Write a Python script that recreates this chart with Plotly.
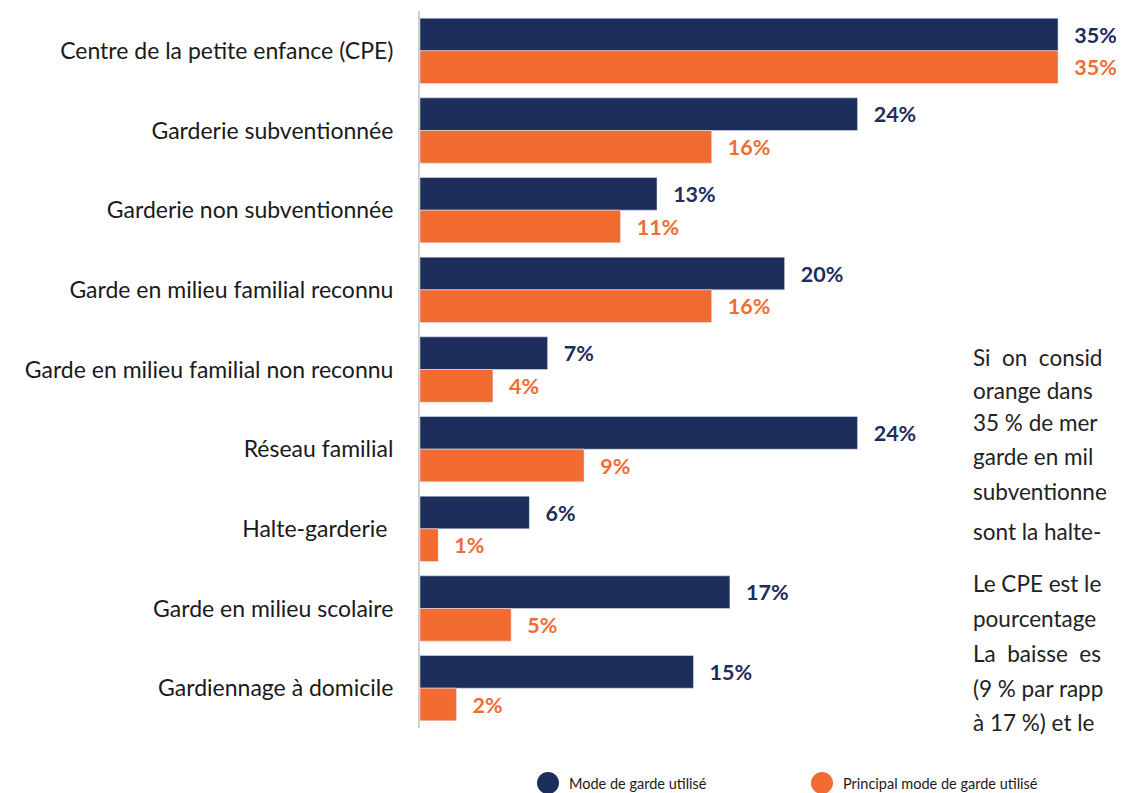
import plotly.graph_objects as go

categories = [
    "Centre de la petite enfance (CPE)",
    "Garderie subventionnée",
    "Garderie non subventionnée",
    "Garde en milieu familial reconnu",
    "Garde en milieu familial non reconnu",
    "Réseau familial",
    "Halte-garderie ",
    "Garde en milieu scolaire",
    "Gardiennage à domicile",
]
mode_utilise = [35, 24, 13, 20, 7, 24, 6, 17, 15]
principal_mode = [35, 16, 11, 16, 4, 9, 1, 5, 2]
series_names = ["Mode de garde utilisé", "Principal mode de garde utilisé"]

side_text = [
    "Si  on  consid",
    "orange dans",
    "35 % de mer",
    "garde en mil",
    "subventionne",
    "sont la halte-",
    "Le CPE est le",
    "pourcentage",
    "La  baisse  es",
    "(9 % par rapp",
    "à 17 %) et le",
]
side_y_px = [357, 390, 423, 457, 491, 531, 583, 618, 653, 688, 722]

NAVY = "#1d2d5c"
ORANGE = "#f26c32"
FONT = "Lato, 'Open Sans', sans-serif"
PAD = "\u00a0\u00a0\u2009"

# page body has an 8px margin: figure is drawn 8px right/down
OFF = 8
W, H = 1124 - OFF, 793 - OFF
ML, MR, MT, MB = 420 - OFF, 0, 11 - OFF, H - (728 - OFF)
plot_w = W - ML - MR
plot_h = H - MT - MB
px_per_pct = 18.23


def px_x(x):  # reference pixel -> paper x
    return (x - OFF - ML) / plot_w


def px_y(y):  # reference pixel -> paper y
    return 1 - (y - OFF - MT) / plot_h


fig = go.Figure()
fig.add_trace(go.Bar(
    y=categories, x=mode_utilise, orientation="h", name=series_names[0],
    marker_color=NAVY, showlegend=False,
    text=[PAD + f"{v}%" for v in mode_utilise],
    textposition="outside", cliponaxis=False,
    textfont=dict(family=FONT, size=21.5, color=NAVY, weight="bold"),
))
fig.add_trace(go.Bar(
    y=categories, x=principal_mode, orientation="h", name=series_names[1],
    marker_color=ORANGE, showlegend=False,
    text=[PAD + f"{v}%" for v in principal_mode],
    textposition="outside", cliponaxis=False,
    textfont=dict(family=FONT, size=21.5, color=ORANGE, weight="bold"),
))

# legend drawn as circles + labels
legend_x_px = [548, 822]
legend_y_px = 783
for name, col, lx in zip(series_names, [NAVY, ORANGE], legend_x_px):
    fig.add_shape(
        type="circle", xref="paper", yref="paper",
        xsizemode="pixel", ysizemode="pixel",
        xanchor=px_x(lx), yanchor=px_y(legend_y_px),
        x0=-11, x1=11, y0=-11, y1=11,
        fillcolor=col, line=dict(width=0),
    )
    fig.add_annotation(
        xref="paper", yref="paper", x=px_x(lx + 19), y=px_y(legend_y_px),
        xanchor="left", yanchor="middle", showarrow=False, text=name,
        font=dict(family=FONT, size=14.5, color="#1a1a1a"),
    )

for t, ypx in zip(side_text, side_y_px):
    fig.add_annotation(
        xref="paper", yref="paper", x=px_x(971), y=px_y(ypx),
        xanchor="left", yanchor="middle", showarrow=False,
        text=t, font=dict(family=FONT, size=22.5, color="#222222"),
    )

fig.update_layout(
    width=W, height=H,
    margin=dict(l=ML, r=MR, t=MT, b=MB, autoexpand=False),
    barmode="group", bargap=0.18, bargroupgap=0.0,
    plot_bgcolor="white", paper_bgcolor="white",
    font=dict(family=FONT, color="#1a1a1a"),
    showlegend=False,
    xaxis=dict(range=[0, plot_w / px_per_pct], visible=False, fixedrange=True,
               automargin=False),
    yaxis=dict(
        autorange="reversed", showgrid=False, zeroline=False, automargin=False,
        showline=True, linecolor="#d0d0d0", linewidth=2,
        ticks="", ticklabelstandoff=20,
        tickfont=dict(family=FONT, size=23, color="#1a1a1a"),
    ),
)

fig.write_html("out.html")
